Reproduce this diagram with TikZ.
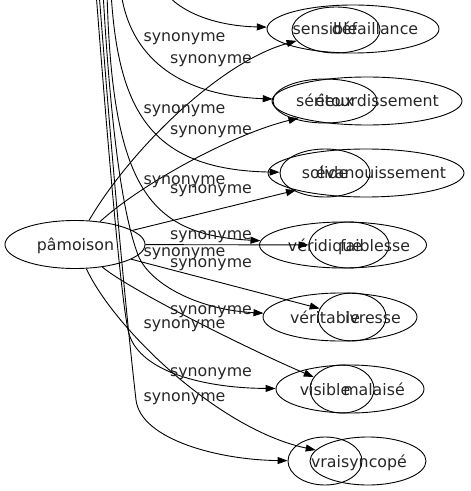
\documentclass[tikz,border=0pt]{standalone}
\usepackage{fontspec}
\setmainfont{DejaVu Sans}
\usetikzlibrary{shapes.geometric,arrows.meta}
\begin{document}
\begin{tikzpicture}[x=1bp,y=-1bp,
  ell/.style={ellipse,draw,line width=0.9bp,inner sep=0pt},
  txt/.style={font=\fontsize{15.8bp}{18bp}\selectfont,text=black!85,inner sep=0pt,anchor=base},
  lbl/.style={txt},
  edge/.style={draw,line width=0.9bp,-{Triangle[length=10bp,width=7bp]}}]
\useasboundingbox (0,0) rectangle (471,491);
% source node
\node[ell,minimum width=140bp,minimum height=48bp] (pam) at (75,244.5) {};
\node[txt] (tpam) at (75.5,250) {pâmoison};
% ellipses
\node[ell,minimum width=172bp,minimum height=48bp] (sens) at (353,29) {};
\node[ell,minimum width=88bp,minimum height=46bp] (defa) at (336,30) {};
\node[ell,minimum width=104bp,minimum height=44bp] (seri) at (325,101) {};
\node[ell,minimum width=190bp,minimum height=48bp] (etou) at (367,101) {};
\node[ell,minimum width=90bp,minimum height=48bp] (soli) at (325,173) {};
\node[ell,minimum width=196bp,minimum height=48bp] (evan) at (366,173) {};
\node[ell,minimum width=167bp,minimum height=46bp] (veri) at (343,245) {};
\node[ell,minimum width=80bp,minimum height=46bp] (faib) at (349,245) {};
\node[ell,minimum width=154bp,minimum height=48bp] (vrta) at (340,317) {};
\node[ell,minimum width=68bp,minimum height=48bp] (ivre) at (352,317) {};
\node[ell,minimum width=148bp,minimum height=48bp] (visi) at (350,389) {};
\node[ell,minimum width=64bp,minimum height=48bp] (mala) at (342,389) {};
\node[ell,minimum width=74bp,minimum height=48bp] (vrai) at (325,461) {};
\node[ell,minimum width=116bp,minimum height=48bp] (sync) at (368,461) {};
% texts
\node[txt] (tsens) at (325,35) {sensible};
\node[txt] (tdefa) at (375,35) {défaillance};
\node[txt] (tseri) at (325,107) {sérieux};
\node[txt] (tetou) at (377,107) {étourdissement};
\node[txt] (tsoli) at (325,179) {solide};
\node[txt] (tevan) at (381,179) {évanouissement};
\node[txt] (tveri) at (325,251) {véridique};
\node[txt] (tfaib) at (375,251) {faiblesse};
\node[txt] (tvrta) at (325,323) {véritable};
\node[txt] (tivre) at (373,323) {ivresse};
\node[txt] (tvisi) at (325,395) {visible};
\node[txt] (tmala) at (374,395) {malaisé};
\node[txt] (tvrai) at (326,467) {vrai};
\node[txt] (tsync) at (374,467) {syncopé};
% free ends above the picture
\coordinate (t1) at (165,-8);
\coordinate (t2) at (121,-8);
\coordinate (t3) at (111,-8);
\coordinate (t4) at (107,-8);
\coordinate (t5) at (103,-8);
\coordinate (t6) at (96,-8);
\coordinate (t7) at (99,-8);
% edges from above
\draw[edge] (t1) .. controls (180,12) and (215,26) .. (sens);
\draw[edge] (t2) .. controls (128,45) and (165,95) .. (seri);
\draw[edge] (t3) .. controls (118,110) and (150,170) .. (soli);
\draw[edge] (t4) .. controls (112,190) and (150,235) .. (veri);
\draw[edge] (t5) .. controls (112,150) and (125,220) .. (138,255) .. controls (150,285) and (200,310) .. (vrta);
\draw[edge] (t6) .. controls (112,200) and (122,300) .. (128,330) .. controls (136,370) and (200,388) .. (visi);
\draw[edge] (t7) .. controls (115,200) and (128,330) .. (136,400) .. controls (141,440) and (220,460) .. (vrai);
% edges from pamoison
\draw[edge] (pam) .. controls (130,150) and (220,62) .. (defa);
\draw[edge] (pam) .. controls (140,185) and (230,135) .. (etou);
\draw[edge] (pam) -- (evan);
\draw[edge] (pam) -- (faib);
\draw[edge] (pam) -- (ivre);
\draw[edge] (pam) .. controls (130,290) and (250,350) .. (mala);
\draw[edge] (pam) .. controls (115,330) and (220,430) .. (sync);
% labels
\node[lbl] (l1) at (184.5,42) {synonyme};
\node[lbl] (l2) at (211,64) {synonyme};
\node[lbl] (l3) at (184.5,114) {synonyme};
\node[lbl] (l4) at (211,135) {synonyme};
\node[lbl] (l5) at (184.5,185) {synonyme};
\node[lbl] (l6) at (211,194) {synonyme};
\node[lbl] (l7) at (211,239) {synonyme};
\node[lbl] (l8) at (184.5,256) {synonyme};
\node[lbl] (l9) at (211,267) {synonyme};
\node[lbl] (l10) at (211,314) {synonyme};
\node[lbl] (l11) at (184.5,328) {synonyme};
\node[lbl] (l12) at (211,376) {synonyme};
\node[lbl] (l13) at (184.5,401) {synonyme};
\end{tikzpicture}
\end{document}
